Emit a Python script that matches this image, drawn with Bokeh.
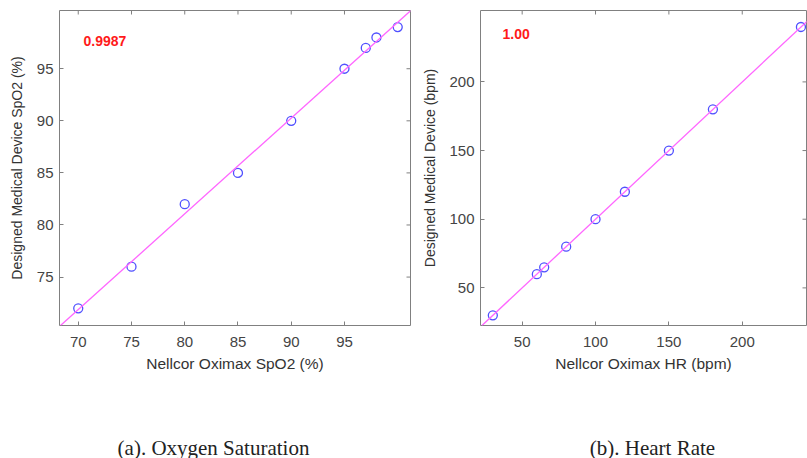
import numpy as np
from bokeh.plotting import figure
from bokeh.models import Range1d, FixedTicker, Slope, Label
from bokeh.layouts import column, row
from bokeh.embed import file_html
from bokeh.resources import INLINE
from bokeh.core.properties import value

# ---- data ----
spo2_ref = [70, 75, 80, 85, 90, 95, 97, 98, 100]
spo2_dev = [72, 76, 82, 85, 90, 95, 97, 98, 99]
spo2_r_label = "0.9987"
spo2_xticks = [70, 75, 80, 85, 90, 95]
spo2_yticks = [75, 80, 85, 90, 95]

hr_ref = [30, 60, 65, 80, 100, 120, 150, 180, 240]
hr_dev = [30, 60, 65, 80, 100, 120, 150, 180, 240]
hr_r_label = "1.00"
hr_xticks = [50, 100, 150, 200]
hr_yticks = [50, 100, 150, 200]

captions = ["(a). Oxygen Saturation", "(b). Heart Rate"]

FONT = "Liberation Sans"
TICK_COL = "#444444"
LAB_COL = "#333333"
FRAME_COL = "#808080"


def style_axis(ax):
    ax.axis_line_color = None
    ax.major_tick_in = 4
    ax.major_tick_out = 0
    ax.minor_tick_line_color = None
    ax.major_tick_line_color = FRAME_COL
    ax.major_label_text_font = FONT
    ax.major_label_text_color = TICK_COL
    ax.major_label_text_font_size = "15px"
    ax.axis_label_text_font = FONT
    ax.axis_label_text_font_style = "normal"
    ax.axis_label_text_color = LAB_COL
    ax.axis_label_text_font_size = "14px"


def make_panel(xs, ys, xr, yr, xt, yt, xlabel, ylabel, rtext, rx, ry,
               width, height, bl, br, bt, bb, ylab_standoff):
    p = figure(width=width, height=height, x_range=Range1d(*xr), y_range=Range1d(*yr),
               toolbar_location=None, output_backend="svg",
               min_border_left=bl, min_border_right=br, min_border_top=bt, min_border_bottom=bb)
    p.grid.visible = False
    p.outline_line_color = FRAME_COL
    p.outline_line_width = 1
    p.xaxis.ticker = FixedTicker(ticks=xt)
    p.yaxis.ticker = FixedTicker(ticks=yt)
    p.xaxis.axis_label = xlabel
    p.yaxis.axis_label = ylabel
    style_axis(p.xaxis[0])
    style_axis(p.yaxis[0])
    p.xaxis.axis_label_text_font_size = "15.5px"
    p.xaxis.major_label_standoff = 11
    p.xaxis.axis_label_standoff = 5
    p.yaxis.major_label_standoff = 6
    p.yaxis.axis_label_standoff = ylab_standoff

    # box ticks on top and right edges (half of each dash is clipped by the frame)
    p.scatter(xt, [p.y_range.end] * len(xt), marker="dash", angle=np.pi / 2, size=8,
              line_color=FRAME_COL, line_width=1)
    p.scatter([p.x_range.end] * len(yt), yt, marker="dash", size=8,
              line_color=FRAME_COL, line_width=1)

    m, b = np.polyfit(xs, ys, 1)
    p.add_layout(Slope(gradient=m, y_intercept=b, line_color="#ff66ff", line_width=1.3))
    p.scatter(xs, ys, marker="circle", size=9, fill_color=None,
              line_color="#5050ff", line_width=1.3)
    p.add_layout(Label(x=rx, y=ry, text=rtext, text_color="#ff1a1a", text_font=FONT,
                       text_font_style="bold", text_font_size="14px", text_baseline="middle"))
    return p


p1 = make_panel(spo2_ref, spo2_dev, (68.24, 101.2), (70.35, 100.59),
                spo2_xticks, spo2_yticks,
                "Nellcor Oximax SpO2 (%)", "Designed Medical Device SpO2 (%)",
                spo2_r_label, 70.5, 97.7,
                width=411, height=380, bl=59, br=1, bt=5, bb=55, ylab_standoff=9)

p2 = make_panel(hr_ref, hr_dev, (21.6, 243.8), (22.6, 252.0),
                hr_xticks, hr_yticks,
                "Nellcor Oximax HR (bpm)", "Designed Medical Device (bpm)",
                hr_r_label, 36.6, 234.6,
                width=396, height=380, bl=69, br=1, bt=10, bb=54, ylab_standoff=8)

cap = figure(width=807, height=78, x_range=Range1d(0, 807), y_range=Range1d(0, 78),
             toolbar_location=None, output_backend="svg", min_border=0,
             x_axis_location=None, y_axis_location=None)
cap.grid.visible = False
cap.outline_line_color = None
cap.text(x=[213, 652], y=[11, 11], text=captions, text_align="center",
         text_baseline="middle", text_font=value("Liberation Serif"),
         text_font_size="21px", text_color="#222222")

layout = column(row(p1, p2), cap)
open("out.html", "w").write(file_html(layout, INLINE))
